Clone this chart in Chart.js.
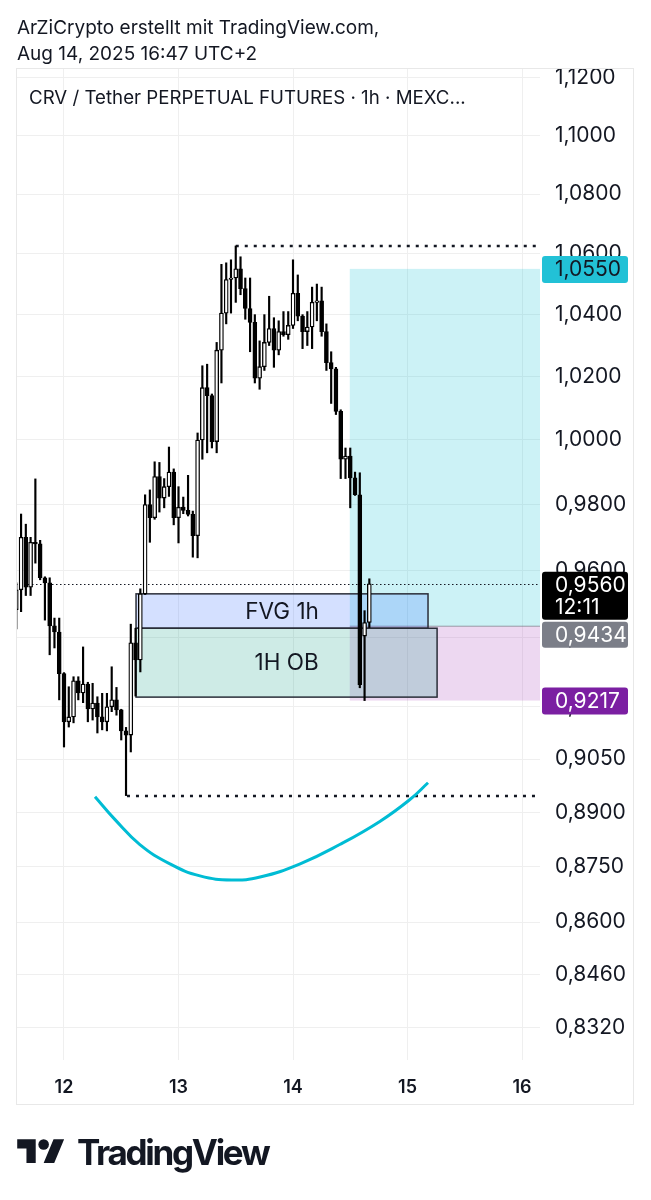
<!DOCTYPE html>
<html lang="de">
<head>
<meta charset="UTF-8" />
<title>CRV / Tether PERPETUAL FUTURES 1h</title>
<script src="https://cdn.jsdelivr.net/npm/chart.js@4.4.1/dist/chart.umd.min.js"></script>
<style>
  body { margin: 0; background: #fff; color: #131722; font-family: Inter, "Noto Sans", sans-serif; }
  #wrap { position: relative; width: 651px; height: 1200px; overflow: hidden; }
  #chart { position: absolute; left: 0; top: 0; }
  .txt { position: absolute; white-space: nowrap; }
  #credit1 { left: 17px; top: 16px; font-size: 19px; }
  #credit2 { left: 17px; top: 42px; font-size: 19px; }
  #legend { left: 29px; top: 86px; font-size: 18.7px; }
  #logo { position: absolute; left: 17px; top: 1134px; display: flex; align-items: center; }
  #logo span { font-weight: 700; font-size: 35px; letter-spacing: -2.3px; margin-left: 12px; line-height: 37px; }
</style>
</head>
<body>
<div id="wrap">
  <canvas id="chart" width="651" height="1200"></canvas>
  <div class="txt" id="credit1">ArZiCrypto erstellt mit TradingView.com,</div>
  <div class="txt" id="credit2">Aug 14, 2025 16:47 UTC+2</div>
  <div class="txt" id="legend">CRV / Tether PERPETUAL FUTURES · 1h · MEXC...</div>
  <div id="logo">
    <svg width="48" height="37" viewBox="0 0 36 28">
      <path d="M14 22H7V11H0V4h14v18zM28 22h-8l7.5-18h8L28 22z" fill="#131722" />
      <circle cx="20" cy="8" r="4" fill="#131722" />
    </svg>
    <span>TradingView</span>
  </div>
</div>

<script>
// hours counted from Aug 12 00:00
const candleHours = [
  -10, -9, -8, -7, -6, -5, -4, -3, -2, -1, 0, 1, 2, 3, 4, 5, 6, 7, 8, 9,
  10, 11, 12, 13, 14, 15, 16, 17, 18, 19, 20, 21, 22, 23, 24, 25, 26, 27, 28, 29,
  30, 31, 32, 33, 34, 35, 36, 37, 38, 39, 40, 41, 42, 43, 44, 45, 46, 47, 48, 49,
  50, 51, 52, 53, 54, 55, 56, 57, 58, 59, 60, 61, 62, 63, 64
];
const opens = [
  0.9483, 0.9542, 0.9700, 0.9550, 0.9685, 0.9680, 0.9578, 0.9563, 0.9435, 0.9417,
  0.9295, 0.9156, 0.9170, 0.9274, 0.9239, 0.9265, 0.9193, 0.9210, 0.9170, 0.9156,
  0.9199, 0.9219, 0.9190, 0.9130, 0.9118, 0.9385, 0.9335, 0.9530, 0.9800, 0.9760,
  0.9886, 0.9820, 0.9855, 0.9900, 0.9760, 0.9792, 0.9782, 0.9770, 0.9705, 1.0000,
  1.0165, 1.0140, 0.9995, 1.0285, 1.0405, 1.0515, 1.0520, 1.0550, 1.0485, 1.0420,
  1.0375, 1.0195, 1.0232, 1.0310, 1.0355, 1.0285, 1.0345, 1.0335, 1.0365, 1.0470,
  1.0395, 1.0345, 1.0360, 1.0440, 1.0445, 1.0345, 1.0245, 1.0225, 1.0090, 0.9940,
  0.9950, 0.9882, 0.9830, 0.9405, 0.9445
];
const highs = [
  0.9563, 0.9771, 0.9740, 0.9700, 0.9879, 0.9691, 0.9581, 0.9578, 0.9458, 0.9458,
  0.9298, 0.9257, 0.9286, 0.9286, 0.9373, 0.9270, 0.9267, 0.9228, 0.9238, 0.9238,
  0.9315, 0.9255, 0.9192, 0.9140, 0.9440, 0.9428, 0.9545, 0.9830, 0.9845, 0.9932,
  0.9930, 0.9880, 0.9978, 0.9910, 0.9855, 0.9823, 0.9890, 0.9780, 1.0022, 1.0235,
  1.0240, 1.0145, 1.0310, 1.0565, 1.0570, 1.0580, 1.0626, 1.0590, 1.0520, 1.0520,
  1.0400, 1.0315, 1.0400, 1.0460, 1.0390, 1.0380, 1.0410, 1.0410, 1.0580, 1.0530,
  1.0400, 1.0410, 1.0490, 1.0500, 1.0490, 1.0370, 1.0280, 1.0230, 1.0095, 0.9975,
  0.9975, 0.9900, 0.9898, 0.9480, 0.9575
];
const lows = [
  0.9426, 0.9477, 0.9525, 0.9525, 0.9622, 0.9572, 0.9452, 0.9350, 0.9370, 0.9219,
  0.9084, 0.9141, 0.9153, 0.9219, 0.9211, 0.9156, 0.9161, 0.9124, 0.9133, 0.9130,
  0.9185, 0.9175, 0.9104, 0.8947, 0.9070, 0.9230, 0.9300, 0.9528, 0.9685, 0.9755,
  0.9777, 0.9790, 0.9825, 0.9738, 0.9683, 0.9772, 0.9765, 0.9640, 0.9638, 0.9940,
  0.9960, 0.9975, 0.9960, 1.0180, 1.0370, 1.0405, 1.0440, 1.0465, 1.0385, 1.0280,
  1.0180, 1.0160, 1.0220, 1.0300, 1.0230, 1.0270, 1.0330, 1.0320, 1.0355, 1.0380,
  1.0290, 1.0300, 1.0290, 1.0380, 1.0330, 1.0220, 1.0115, 1.0080, 0.9880, 0.9880,
  0.9790, 0.9828, 0.9254, 0.9217, 0.9430
];
const closes = [
  0.9542, 0.9700, 0.9550, 0.9685, 0.9680, 0.9578, 0.9563, 0.9435, 0.9417, 0.9295,
  0.9156, 0.9170, 0.9274, 0.9239, 0.9265, 0.9193, 0.9210, 0.9170, 0.9156, 0.9199,
  0.9219, 0.9190, 0.9130, 0.9118, 0.9385, 0.9335, 0.9530, 0.9800, 0.9760, 0.9886,
  0.9820, 0.9855, 0.9900, 0.9760, 0.9792, 0.9782, 0.9770, 0.9705, 1.0000, 1.0165,
  1.0140, 0.9995, 1.0285, 1.0405, 1.0515, 1.0520, 1.0550, 1.0485, 1.0420, 1.0375,
  1.0195, 1.0232, 1.0310, 1.0355, 1.0285, 1.0345, 1.0335, 1.0365, 1.0470, 1.0395,
  1.0345, 1.0360, 1.0440, 1.0445, 1.0345, 1.0245, 1.0225, 1.0090, 0.9940, 0.9950,
  0.9882, 0.9830, 0.9263, 0.9445, 0.9560
];

const yTicks = [1.12, 1.10, 1.08, 1.06, 1.04, 1.02, 1.00, 0.98, 0.96, 0.94, 0.92, 0.905, 0.89, 0.875, 0.86, 0.846, 0.832];
const dayTicks = [12, 13, 14, 15, 16];
const yMin = 0.82366;
const yMax = 1.12344;

// drawings
const fvgBox = { from: 15.1, to: 76.3, top: 0.9530, bottom: 0.9428, label: "FVG 1h", fill: "rgba(41,98,255,0.2)" };
const obBox = { from: 15.1, to: 78.2, top: 0.9428, bottom: 0.9227, label: "1H OB", fill: "rgba(8,153,129,0.2)" };
const swingHigh = { from: 36, price: 1.0626 };
const swingLow = { from: 13.2, price: 0.8947 };
const lastPrice = 0.956;
const countdown = "12:11";
const longFrom = 59.9;
const longTarget = 1.055;
const longEntry = 0.9434;
const longStop = 0.9217;
const curveHours = [6.5, 10.7, 15.9, 22.2, 28.5, 35.2, 41.1, 49.5, 57.8, 66.2, 72.5, 76.3];
const curvePrices = [0.8944, 0.8880, 0.8811, 0.8758, 0.8725, 0.8714, 0.8722, 0.8758, 0.8811, 0.8875, 0.8936, 0.8983];

const fmt = (v) => v.toFixed(4).replace(".", ",");
const FONT = "Inter, 'Noto Sans', sans-serif";

const overlays = {
  id: "overlays",
  beforeDatasetsDraw(chart) {
    const { ctx, chartArea: a, scales: { x, y } } = chart;
    ctx.save();
    ctx.beginPath();
    ctx.rect(a.left, a.top, a.right - a.left, a.bottom - a.top);
    ctx.clip();

    // long position
    const lx = x.getPixelForValue(longFrom);
    const yT = y.getPixelForValue(longTarget);
    const yE = y.getPixelForValue(longEntry);
    const yS = y.getPixelForValue(longStop);
    ctx.fillStyle = "rgba(0,188,212,0.2)";
    ctx.fillRect(lx, yT, a.right - lx, yE - yT);
    ctx.fillStyle = "rgba(156,39,176,0.18)";
    ctx.fillRect(lx, yE, a.right - lx, yS - yE);
    ctx.strokeStyle = "rgba(120,123,134,0.7)";
    ctx.lineWidth = 1;
    ctx.beginPath();
    ctx.moveTo(lx, yE);
    ctx.lineTo(a.right, yE);
    ctx.stroke();

    // boxes
    const boxes = [obBox, fvgBox];
    boxes.forEach((b) => {
      const x0 = x.getPixelForValue(b.from), x1 = x.getPixelForValue(b.to);
      const y0 = y.getPixelForValue(b.top), y1 = y.getPixelForValue(b.bottom);
      ctx.fillStyle = b.fill;
      ctx.fillRect(x0, y0, x1 - x0, y1 - y0);
    });
    boxes.forEach((b) => {
      const x0 = x.getPixelForValue(b.from), x1 = x.getPixelForValue(b.to);
      const y0 = y.getPixelForValue(b.top), y1 = y.getPixelForValue(b.bottom);
      ctx.strokeStyle = "#2a2e39";
      ctx.lineWidth = 1.5;
      ctx.strokeRect(x0, y0, x1 - x0, y1 - y0);
      ctx.fillStyle = "#131722";
      ctx.font = "22.5px " + FONT;
      ctx.textAlign = "center";
      ctx.textBaseline = "middle";
      ctx.fillText(b.label, (x0 + x1) / 2, (y0 + y1) / 2 + 1);
    });

    // swing high / low
    ctx.strokeStyle = "#131722";
    ctx.lineWidth = 2.5;
    ctx.setLineDash([3, 6]);
    [swingHigh, swingLow].forEach((l) => {
      const py = Math.round(y.getPixelForValue(l.price));
      ctx.beginPath();
      ctx.moveTo(x.getPixelForValue(l.from), py);
      ctx.lineTo(a.right, py);
      ctx.stroke();
    });

    // last price
    const pl = Math.round(y.getPixelForValue(lastPrice)) + 0.5;
    ctx.lineWidth = 1;
    ctx.setLineDash([1.5, 2.5]);
    ctx.beginPath();
    ctx.moveTo(a.left, pl);
    ctx.lineTo(a.right, pl);
    ctx.stroke();
    ctx.restore();
  },
  afterDraw(chart) {
    const { ctx, chartArea: a, scales: { y } } = chart;
    ctx.save();
    const tag = (top, h, bg, fg, lines) => {
      ctx.fillStyle = bg;
      ctx.beginPath();
      ctx.roundRect(a.right + 2, top, 86, h, 3);
      ctx.fill();
      ctx.fillStyle = fg;
      ctx.font = "21px " + FONT;
      ctx.textAlign = "left";
      ctx.textBaseline = "middle";
      lines.forEach((t, i) => ctx.fillText(t, 555, top + 14 + i * 22));
    };
    const cy = y.getPixelForValue(longTarget);
    tag(cy - 13, 27, "#22c1d6", "#131722", [fmt(longTarget)]);
    const ly = y.getPixelForValue(lastPrice) - 12;
    tag(ly, 48, "#000000", "#ffffff", [fmt(lastPrice), countdown]);
    const ey = Math.max(y.getPixelForValue(longEntry) - 13, ly + 50);
    tag(ey, 26, "#7b7e88", "#ffffff", [fmt(longEntry)]);
    const sy = y.getPixelForValue(longStop);
    tag(sy - 13, 27, "#7b1fa2", "#ffffff", [fmt(longStop)]);

    // frame
    ctx.strokeStyle = "#e8e8e8";
    ctx.lineWidth = 1;
    ctx.strokeRect(16.5, 68.5, 617, 1036);
    ctx.restore();
  }
};

Chart.defaults.font.family = FONT;
Chart.defaults.color = "#131722";

const bodyColors = candleHours.map((h, i) => (closes[i] >= opens[i] ? "#ffffff" : "#000000"));

new Chart(document.getElementById("chart"), {
  type: "bar",
  data: {
    datasets: [
      {
        type: "line",
        data: curveHours.map((h, i) => ({ x: h, y: curvePrices[i] })),
        borderColor: "#00bcd4",
        borderWidth: 3,
        pointRadius: 0,
        tension: 0.45,
        order: 0
      },
      {
        data: candleHours.map((h, i) => ({ x: h, y: [opens[i], closes[i]] })),
        backgroundColor: bodyColors,
        borderColor: "#000000",
        borderWidth: 1.3,
        borderSkipped: false,
        barThickness: 4,
        minBarLength: 1.5,
        grouped: false,
        order: 1
      },
      {
        data: candleHours.map((h, i) => ({ x: h, y: [lows[i], highs[i]] })),
        backgroundColor: "#000000",
        borderWidth: 0,
        barThickness: 1.5,
        grouped: false,
        order: 2
      }
    ]
  },
  options: {
    responsive: false,
    animation: false,
    events: [],
    layout: { padding: { left: 16, top: 68, right: 17, bottom: 95 } },
    plugins: { legend: { display: false }, tooltip: { enabled: false } },
    scales: {
      x: {
        type: "linear",
        offset: false,
        min: -10.06,
        max: 99.77,
        grid: { color: "#efefef", drawTicks: false, offset: false },
        border: { display: false },
        afterBuildTicks: (s) => { s.ticks = dayTicks.map((d) => ({ value: (d - 12) * 24 })); },
        afterFit: (s) => { s.height = 45; },
        ticks: {
          padding: 17,
          font: { size: 18, weight: "600" },
          color: "#131722",
          maxRotation: 0,
          callback: (v) => String(Math.round(12 + v / 24))
        }
      },
      y: {
        type: "logarithmic",
        position: "right",
        bounds: "data",
        min: yMin,
        max: yMax,
        grid: { color: "#efefef", drawTicks: false },
        border: { display: false },
        afterBuildTicks: (s) => {
          s.ticks = yTicks.map((v) => ({ value: v }));
          s.min = yMin;
          s.max = yMax;
        },
        afterFit: (s) => { s.width = 94; },
        ticks: {
          padding: 15,
          font: { size: 21 },
          color: "#131722",
          callback: (v) => fmt(v)
        }
      }
    }
  },
  plugins: [overlays]
});
</script>
</body>
</html>
